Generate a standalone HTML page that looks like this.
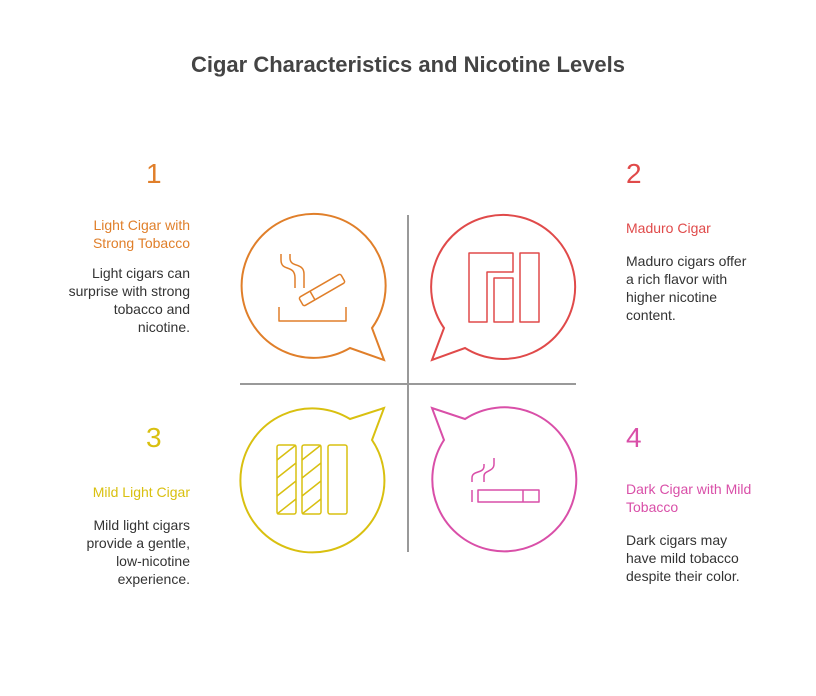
<!DOCTYPE html>
<html><head><style>
body{margin:0;width:816px;height:696px;background:#fff;font-family:"Liberation Sans",sans-serif;position:relative;overflow:hidden}
.t{position:absolute;font-size:14px;line-height:18px;color:#333}
.n{position:absolute;font-size:28px;line-height:32px}
.r{text-align:right}
</style></head><body>
<div style="position:absolute;left:0;width:816px;top:52px;text-align:center;font-size:22px;font-weight:bold;color:#444">Cigar Characteristics and Nicotine Levels</div>
<div class="n" style="left:146px;top:158px;color:#e07f2a">1</div>
<div class="t r" style="right:626px;top:216px;color:#e07f2a">Light Cigar with<br>Strong Tobacco</div>
<div class="t r" style="right:626px;top:264px">Light cigars can<br>surprise with strong<br>tobacco and<br>nicotine.</div>
<div class="n" style="left:626px;top:158px;color:#e04a4a">2</div>
<div class="t" style="left:626px;top:219px;color:#e04a4a">Maduro Cigar</div>
<div class="t" style="left:626px;top:252px">Maduro cigars offer<br>a rich flavor with<br>higher nicotine<br>content.</div>
<div class="n" style="left:146px;top:422px;color:#d9c010">3</div>
<div class="t r" style="right:626px;top:483px;color:#d9c010">Mild Light Cigar</div>
<div class="t r" style="right:626px;top:516px">Mild light cigars<br>provide a gentle,<br>low-nicotine<br>experience.</div>
<div class="n" style="left:626px;top:422px;color:#d94fa8">4</div>
<div class="t" style="left:626px;top:480px;color:#d94fa8">Dark Cigar with Mild<br>Tobacco</div>
<div class="t" style="left:626px;top:531px">Dark cigars may<br>have mild tobacco<br>despite their color.</div>
<svg width="816" height="696" style="position:absolute;left:0;top:0" fill="none" stroke-width="2" stroke-linejoin="round">
<line x1="408" y1="215" x2="408" y2="552" stroke="#999"/>
<line x1="240" y1="384" x2="576" y2="384" stroke="#999"/>
<!-- orange -->
<g stroke="#e07f2a">
<path d="M350 348 A72 72 0 1 1 372 328 L384 360 Z" stroke-linejoin="miter"/>
<path d="M281 254 v6 c0 12 14 4 14 18 v10 M290 254 v4 c0 10 14 4 14 16 v14" stroke-width="1.5"/>
<path d="M279 307 v14 h67 v-14" stroke-width="1.5"/>
<g transform="rotate(-30 322 290)"><rect x="298" y="285" width="48" height="10" rx="2" stroke-width="1.5"/><line x1="311" y1="285" x2="311" y2="295" stroke-width="1.5"/></g>
</g>
<!-- red -->
<g stroke="#e04a4a" stroke-width="1.5">
<path d="M465 348 A72 72 0 1 0 444 328 L432 360 Z" stroke-width="2" stroke-linejoin="miter"/>
<path d="M469 253 h44 v19 h-26 v50 h-18 Z"/>
<rect x="494" y="278" width="19" height="44"/>
<rect x="520" y="253" width="19" height="69"/>
</g>
<!-- yellow -->
<g stroke="#d9c010" stroke-width="1.5">
<path d="M350 419 A72 72 0 1 0 372 440 L384 408 Z" stroke-width="2" stroke-linejoin="miter"/>
<rect x="277" y="445" width="19" height="69" rx="2"/>
<rect x="302" y="445" width="19" height="69" rx="2"/>
<rect x="328" y="445" width="19" height="69" rx="2"/>
<path d="M277 460 L296 445 M277 478 L296 463 M277 496 L296 481 M277 514 L296 499 M302 460 L321 445 M302 478 L321 463 M302 496 L321 481 M302 514 L321 499"/>
</g>
<!-- pink -->
<g stroke="#d94fa8" stroke-width="1.5">
<path d="M465 419 A72 72 0 1 1 444 440 L432 408 Z" stroke-width="2" stroke-linejoin="miter"/>
<rect x="478" y="490" width="61" height="12"/>
<line x1="523" y1="490" x2="523" y2="502"/>
<line x1="472" y1="490" x2="472" y2="502"/>
<path d="M472 482 v-4 c0-8 12-4 12-12 v-2 M484 482 v-6 c0-6 10-4 10-12 v-6" />
</g>
</svg>
</body></html>
